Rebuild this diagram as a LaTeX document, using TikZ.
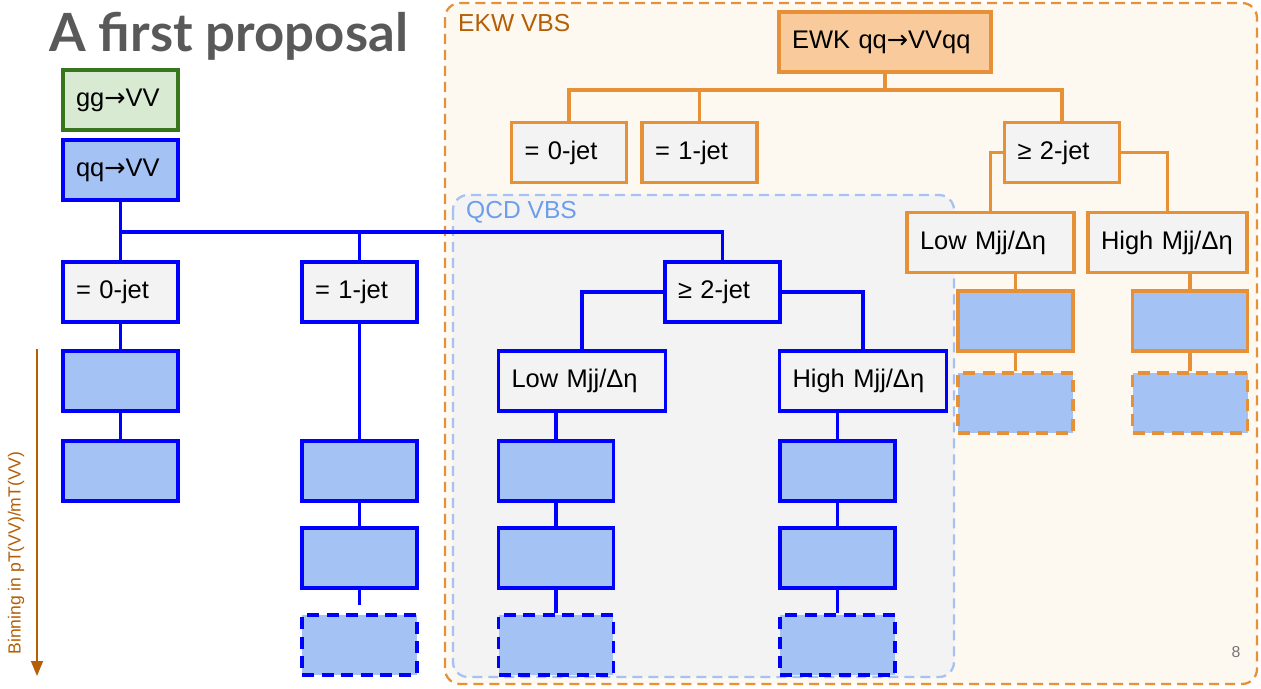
\documentclass[tikz,border=0pt]{standalone}
\usepackage{fontspec}
\setmainfont{Liberation Sans}
\newfontfamily\titlefont{Lato}
\newfontfamily\arrowfont{DejaVu Sans}
\usetikzlibrary{arrows.meta,positioning}

\definecolor{qblue}{HTML}{0000FF}
\definecolor{binblue}{HTML}{A4C2F4}
\definecolor{cellgray}{HTML}{F3F3F3}
\definecolor{ggreen}{HTML}{38761D}
\definecolor{ggfill}{HTML}{D9EAD3}
\definecolor{eorange}{HTML}{E69138}
\definecolor{ewkfill}{HTML}{F9CB9C}
\definecolor{ekwback}{HTML}{FDF8F0}
\definecolor{ekwtext}{HTML}{B45F06}
\definecolor{qcdline}{HTML}{A4C2F4}
\definecolor{qcdtext}{HTML}{6D9EEB}
\definecolor{titlegray}{HTML}{595959}
\definecolor{pagegray}{HTML}{757575}

% arrow used in the process names
\newcommand{\procarrow}{{\arrowfont →}}

\begin{document}
\begin{tikzpicture}[
    x=0.02cm, y=-0.02cm,
    node distance=0.46cm,
    every node/.style={font=\fontsize{14.5}{17}\selectfont},
    cell/.style={draw, line width=2.2pt, minimum width=2.3cm, minimum height=1.2cm, inner xsep=0.26cm, inner ysep=0pt, align=left, text width=1.78cm},
    wide/.style={text width=2.82cm},
    qcell/.style={cell, draw=qblue, fill=cellgray},
    ecell/.style={cell, draw=eorange, fill=cellgray},
    qbin/.style={draw=qblue, line width=2.2pt, fill=binblue, minimum width=2.3cm, minimum height=1.2cm},
    ebin/.style={qbin, draw=eorange},
    later/.style={dash pattern=on 0.24cm off 0.15cm},
    qlink/.style={draw=qblue, line width=2.2pt},
    elink/.style={draw=eorange, line width=2.2pt},
    frame/.style={rounded corners=0.3cm, line width=1.3pt, dash pattern=on 0.2cm off 0.12cm},
    framelabel/.style={anchor=west, font=\fontsize{14}{16}\selectfont},
    binarrow/.style={-{Triangle[length=0.3cm,width=0.24cm]}, draw=ekwtext, line width=0.9pt}
]
\useasboundingbox (0,0) rectangle (1261,689);
\fill[white] (0,0) rectangle (1261,689);

% groups
\draw[frame, draw=eorange, fill=ekwback] (445,3) rectangle (1257,684);
\node[framelabel, text=ekwtext] (ekwlabel) at (452,23) {EKW VBS};
\draw[frame, draw=qcdline, fill=cellgray] (453,195) rectangle (954,677);
\node[framelabel, text=qcdtext] (qcdlabel) at (460,212) {QCD VBS};

\node[anchor=base west, inner sep=0pt, text=titlegray, font=\titlefont\bfseries\fontsize{30}{33}\selectfont] (title) at (49,52) {A first proposal};

% inclusive processes
\node[cell, draw=ggreen, fill=ggfill] (gg) at (120.5,100) {gg\procarrow VV};
\node[cell, draw=qblue, fill=binblue] (qq) at (120.5,170) {qq\procarrow VV};
\node[qcell] (q0) at (120.5,292) {= 0-jet};
\node[qcell] (q1) at (359.5,292) {= 1-jet};
\node[qcell] (q2) at (722.5,292) {≥ 2-jet};
\node[qcell, wide] (qlow) at (582,381) {Low Mjj/Δη};
\node[qcell, wide] (qhigh) at (863,381) {High Mjj/Δη};

\node[qbin] (q0a) at (120.5,381) {};
\node[qbin] (q0b) at (120.5,471) {};
\node[qbin] (q1a) at (359.5,471) {};
\node[qbin, below=of q1a] (q1b) {};
\node[qbin, later, below=of q1b] (q1c) {};
\node[qbin] (qla) at (556,471) {};
\node[qbin, below=of qla] (qlb) {};
\node[qbin, later, below=of qlb] (qlc) {};
\node[qbin] (qha) at (837.5,471) {};
\node[qbin, below=of qha] (qhb) {};
\node[qbin, later, below=of qhb] (qhc) {};

\coordinate (qbus) at (120.5,232);
\draw[qlink] (qq) -- (q0);
\draw[qlink] (qbus) -| (q2);
\draw[qlink] (qbus -| q1) -- (q1);
\draw[qlink] (q2.west) -| (qlow);
\draw[qlink] (q2.east) -| (qhigh);
\draw[qlink] (q0) -- (q0a) -- (q0b);
\draw[qlink] (q1) -- (q1a) -- (q1b);
\draw[qlink, shorten >=0.16cm] (q1b) -- (q1c);
\draw[qlink] (qlow.south -| qla) -- (qla) -- (qlb) -- (qlc);
\draw[qlink] (qhigh.south -| qha) -- (qha) -- (qhb) -- (qhc);

% electroweak
\node[ecell, fill=ewkfill, text width=3.72cm] (ewk) at (885,42) {EWK qq\procarrow VVqq};
\node[ecell] (e0) at (569,152.5) {= 0-jet};
\node[ecell] (e1) at (699.5,152.5) {= 1-jet};
\node[ecell] (e2) at (1062,152.5) {≥ 2-jet};
\node[ecell, wide] (elow) at (990.5,242.5) {Low Mjj/Δη};
\node[ecell, text width=2.66cm] (ehigh) at (1167.5,242.5) {High Mjj/Δη};
\node[ebin] (ela) at (1015.5,321) {};
\node[ebin, later, below=0.36cm of ela] (elb) {};
\node[ebin] (eha) at (1190,321) {};
\node[ebin, later, below=0.36cm of eha] (ehb) {};

\coordinate (ebus) at (885,90);
\draw[elink] (ewk) -- (ebus);
\draw[elink] (e0) |- (ebus) -| (e2);
\draw[elink] (ebus -| e1) -- (e1);
\draw[elink] (e2.west) -| (elow);
\draw[elink] (e2.east) -| (ehigh);
\draw[elink] (elow.south -| ela) -- (ela) -- (elb);
\draw[elink] (ehigh.south -| eha) -- (eha) -- (ehb);

% binning axis
\coordinate (bintop) at (37,349);
\coordinate (binbot) at (37,676);
\draw[binarrow] (bintop) -- (binbot);
\node[rotate=90, text=ekwtext, font=\fontsize{10}{12}\selectfont] (binlabel) at (16,553) {Binning in pT(VV)/mT(VV)};

\node[text=pagegray, font=\fontsize{9}{11}\selectfont] (pagenum) at (1236,652) {8};
\end{tikzpicture}
\end{document}
